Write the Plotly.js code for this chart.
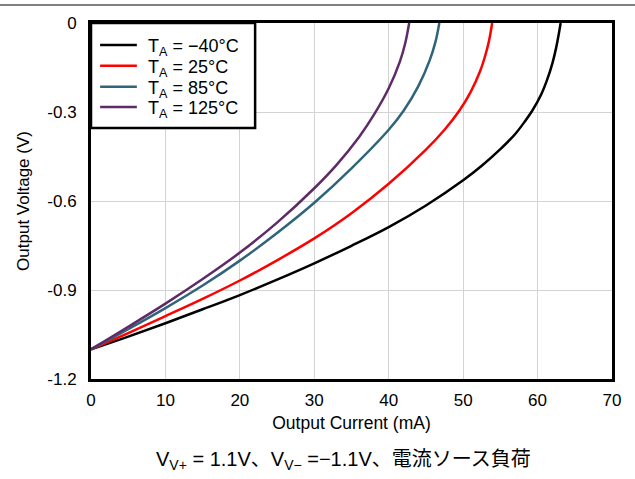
<!DOCTYPE html>
<html>
<head>
<meta charset="utf-8">
<script src="https://cdn.plot.ly/plotly-3.0.1.min.js"></script>
<style>html,body{margin:0;padding:0;background:#fff;}#chart{width:635px;height:479px;}</style>
</head>
<body>
<div id="chart"></div>
<script>
// Output current (mA) and output voltage (V) for each ambient temperature
const seriesNames = ["T<sub>A</sub> = \u221240\u00B0C", "T<sub>A</sub> = 25\u00B0C", "T<sub>A</sub> = 85\u00B0C", "T<sub>A</sub> = 125\u00B0C"];
const seriesColors = ["#000000", "#ff0000", "#2f6479", "#5e2b68"];

const iNeg40 = [0, 5, 10, 15, 20, 25, 30, 35, 40, 45, 50, 52.5, 55, 57, 58.2, 59.3, 60.5, 61.3, 62, 62.5, 62.9, 63.1];
const vNeg40 = [-1.1, -1.057, -1.012, -0.965, -0.917, -0.865, -0.81, -0.751, -0.688, -0.615, -0.530, -0.481, -0.425, -0.374, -0.335, -0.295, -0.24, -0.19, -0.135, -0.083, -0.03, 0];

const i25 = [0, 5, 10, 15, 20, 25, 30, 35, 40, 45, 47.5, 49.5, 51, 52.3, 53, 53.5, 53.9];
const v25 = [-1.1, -1.045, -0.988, -0.93, -0.868, -0.80, -0.726, -0.641, -0.542, -0.427, -0.36, -0.295, -0.233, -0.161, -0.107, -0.057, 0];

const i85 = [0, 5, 10, 15, 20, 25, 30, 35, 40, 42, 44, 45.5, 46.3, 46.8];
const v85 = [-1.1, -1.032, -0.961, -0.885, -0.801, -0.708, -0.606, -0.49, -0.36, -0.296, -0.212, -0.126, -0.062, 0];

const i125 = [0, 5, 10, 15, 20, 25, 30, 33, 36, 38, 40, 41.5, 42.2, 42.75];
const v125 = [-1.1, -1.024, -0.946, -0.863, -0.774, -0.673, -0.557, -0.478, -0.385, -0.31, -0.22, -0.13, -0.07, 0];

const xTickVals = [0, 10, 20, 30, 40, 50, 60, 70];
const yTickVals = [0, -0.3, -0.6, -0.9, -1.2];
const yTickText = ["0", "-0.3", "-0.6", "-0.9", "-1.2"];

const xTitle = "Output Current (mA)";
const yTitle = "Output Voltage (V)";
const caption = "V<sub>V+</sub> = 1.1V\u3001V<sub>V\u2212</sub> =\u22121.1V\u3001\u96FB\u6D41\u30BD\u30FC\u30B9\u8CA0\u8377";

const xs = [iNeg40, i25, i85, i125];
const ys = [vNeg40, v25, v85, v125];

const fontFam = "Liberation Sans, Arial, Noto Sans CJK JP, sans-serif";

const traces = xs.map((x, k) => ({
  x: x, y: ys[k], type: "scatter", mode: "lines", name: seriesNames[k], showlegend: false,
  line: {color: seriesColors[k], width: 2.5, shape: "spline", smoothing: 1}
}));

// Legend drawn as a boxed key in the top-left corner of the plot area
const legendRowsY = [0.938, 0.880, 0.821, 0.764];
const shapes = [
  {type: "line", xref: "paper", yref: "paper", x0: -0.2, x1: 1.1, y0: 1.0506, y1: 1.0506,
   line: {color: "#808080", width: 2}},
  {type: "rect", xref: "paper", yref: "paper", x0: 0, x1: 0.315, y0: 0.705, y1: 1,
   line: {color: "#000000", width: 2.5}, fillcolor: "#ffffff", layer: "above"}
];
const annotations = [{text: caption, xref: "paper", yref: "paper", x: 0.484, y: -0.23,
                 xanchor: "center", yanchor: "middle", showarrow: false,
                 font: {size: 20, family: fontFam, color: "#000000"}}];
seriesNames.forEach((nm, k) => {
  shapes.push({type: "line", xref: "paper", yref: "paper", x0: 0.0175, x1: 0.088,
               y0: legendRowsY[k], y1: legendRowsY[k], layer: "above",
               line: {color: seriesColors[k], width: 2.5}});
  annotations.push({text: nm, xref: "paper", yref: "paper", x: 0.105, y: legendRowsY[k] - 0.008,
                    xanchor: "left", yanchor: "middle", showarrow: false,
                    font: {size: 18, family: fontFam, color: "#000000"}});
});

const layout = {
  width: 635, height: 479,
  margin: {l: 91, r: 23, t: 23, b: 100},
  paper_bgcolor: "#ffffff", plot_bgcolor: "#ffffff",
  font: {family: fontFam, color: "#000000", size: 17},
  showlegend: false,
  xaxis: {range: [0, 70], tickmode: "array", tickvals: xTickVals, showgrid: true,
          gridcolor: "#d3d3d3", gridwidth: 1, zeroline: false, showline: true, mirror: true,
          linecolor: "#000000", linewidth: 3, ticks: "outside", ticklen: 4, tickcolor: "rgba(0,0,0,0)",
          tickfont: {size: 17}, title: {text: xTitle, font: {size: 17.5}, standoff: 8}},
  yaxis: {range: [-1.2, 0], tickmode: "array", tickvals: yTickVals, ticktext: yTickText, showgrid: true,
          gridcolor: "#d3d3d3", gridwidth: 1, zeroline: false, showline: true, mirror: true,
          linecolor: "#000000", linewidth: 3, ticks: "outside", ticklen: 8, tickcolor: "rgba(0,0,0,0)",
          tickfont: {size: 17}, title: {text: yTitle, font: {size: 17}, standoff: 14}},
  shapes: shapes,
  annotations: annotations
};

Plotly.newPlot("chart", traces, layout, {displayModeBar: false});
</script>
</body>
</html>
